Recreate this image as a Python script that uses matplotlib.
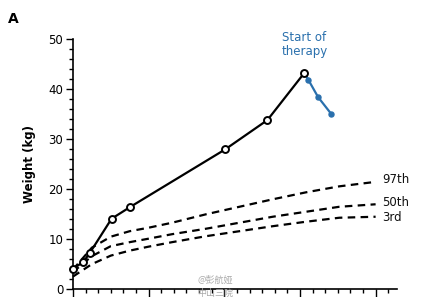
import matplotlib.pyplot as plt
import numpy as np
from matplotlib.ticker import MultipleLocator

# patient weight (age in years, weight in kg)
age_before = [0.0, 0.136, 0.225, 0.51, 0.76, 2.01, 2.57, 3.06]
wt_before = [4.0, 5.3, 7.2, 14.0, 16.4, 27.9, 33.8, 43.3]

age_after = [3.06, 3.11, 3.24, 3.41]
wt_after = [43.3, 41.9, 38.4, 35.1]

# reference growth curves
age_ref = [0, 0.25, 0.5, 0.75, 1.0, 1.31, 1.76, 2.2, 2.64, 3.08, 3.52, 4.0]
p97 = [3.8, 8.2, 10.4, 11.5, 12.2, 13.2, 14.9, 16.4, 17.9, 19.3, 20.5, 21.4]
p50 = [3.3, 6.5, 8.5, 9.3, 10.0, 10.9, 12.0, 13.2, 14.4, 15.4, 16.4, 16.9]
p3 = [2.4, 4.9, 6.6, 7.6, 8.4, 9.3, 10.5, 11.5, 12.5, 13.4, 14.2, 14.4]
pct_labels = ["97th", "50th", "3rd"]
pct_label_y = [21.9, 17.2, 14.3]

blue = "#2a70ad"

fig = plt.figure(figsize=(4.37, 2.97), dpi=100)
ax = fig.add_axes([0.167, 0.0286, 0.741, 0.839])

for curve in (p97, p50, p3):
    ax.plot(age_ref, curve, color="black", lw=1.6, ls=(0, (3.4, 2.4)), clip_on=False)

ax.plot(age_before, wt_before, color="black", lw=1.6, marker="o", ms=5,
        mfc="white", mec="black", mew=1.4, clip_on=False, zorder=3)
ax.plot(age_after, wt_after, color=blue, lw=1.6, zorder=2)
ax.plot(age_after[1:], wt_after[1:], "o", color=blue, ms=3.6, zorder=4)

for lab, yv in zip(pct_labels, pct_label_y):
    ax.text(4.09, yv, lab, fontsize=8.5, va="center", ha="left", color="#111111")

ax.text(3.06, 46.3, "Start of\ntherapy", color=blue, fontsize=8.5, ha="center",
        va="bottom", linespacing=1.1)

ax.set_xlim(0, 4.28)
ax.set_ylim(0, 50)
ax.spines["top"].set_visible(False)
ax.spines["right"].set_visible(False)
ax.spines["left"].set_linewidth(1.2)
ax.spines["bottom"].set_linewidth(1.2)

ax.xaxis.set_major_locator(MultipleLocator(1))
ax.xaxis.set_minor_locator(MultipleLocator(1 / 6))
ax.set_xticklabels([])
ax.tick_params(axis="x", which="major", length=6, width=1)
ax.tick_params(axis="x", which="minor", length=3, width=1)

ax.yaxis.set_major_locator(MultipleLocator(10))
ax.yaxis.set_minor_locator(MultipleLocator(2))
ax.tick_params(axis="y", which="major", length=5, width=1, labelsize=8.5, pad=2)
ax.tick_params(axis="y", which="minor", length=3, width=1)
ax.set_ylabel("Weight (kg)", fontsize=8.5, fontweight="bold", labelpad=9)

fig.text(0.018, 0.922, "A", fontsize=10, fontweight="bold")

# watermark text
fig.text(0.493, 0.048, "@彭航娅", fontsize=6.5, color="#aaaaaa",
         family=["Noto Sans CJK SC", "DejaVu Sans"], ha="center")
fig.text(0.493, 0.005, "中山三院", fontsize=6.5, color="#aaaaaa",
         family=["Noto Sans CJK SC", "DejaVu Sans"], ha="center")

fig.savefig("out.png", dpi=100)
